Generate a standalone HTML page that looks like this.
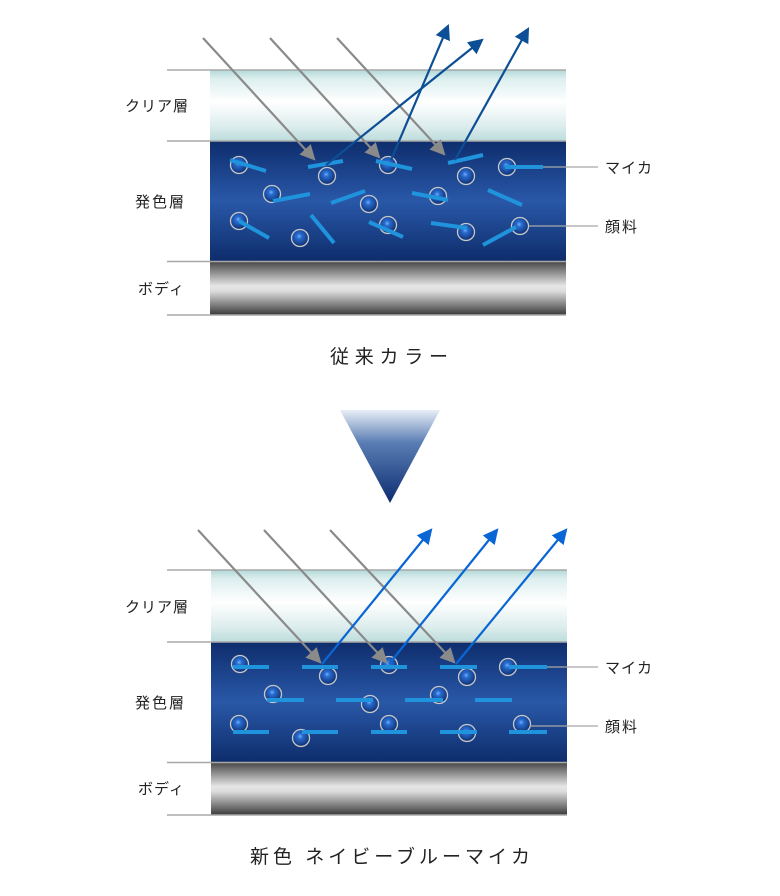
<!DOCTYPE html>
<html><head><meta charset="utf-8"><style>
html,body{margin:0;padding:0;background:#fff;}
svg{display:block;}
text{font-family:"Liberation Sans","Noto Sans CJK JP",sans-serif;fill:#222;}
</style></head><body>
<svg width="780" height="896" viewBox="0 0 780 896" xmlns="http://www.w3.org/2000/svg">
<defs>
<linearGradient id="clr" x1="0" y1="0" x2="0" y2="1">
<stop offset="0" stop-color="#b2d8d8"/><stop offset="0.12" stop-color="#dceeee"/><stop offset="0.45" stop-color="#ffffff"/><stop offset="0.8" stop-color="#dcecec"/><stop offset="1" stop-color="#bcdcdc"/>
</linearGradient>
<linearGradient id="blu" x1="0" y1="0" x2="0" y2="1">
<stop offset="0" stop-color="#0e2d6c"/><stop offset="0.5" stop-color="#2958a8"/><stop offset="1" stop-color="#0e2d6c"/>
</linearGradient>
<linearGradient id="bod" x1="0" y1="0" x2="0" y2="1">
<stop offset="0" stop-color="#4a4a4a"/><stop offset="0.45" stop-color="#e6e6e6"/><stop offset="0.55" stop-color="#dcdcdc"/><stop offset="1" stop-color="#3a3a3a"/>
</linearGradient>
<linearGradient id="tri" x1="0" y1="0" x2="0" y2="1">
<stop offset="0" stop-color="#e8eef6"/><stop offset="0.35" stop-color="#5a7db4"/><stop offset="1" stop-color="#0c2c70"/>
</linearGradient>
<radialGradient id="sph" cx="0.45" cy="0.4" r="0.6">
<stop offset="0" stop-color="#6fb0ff"/><stop offset="0.25" stop-color="#2a6cd0"/><stop offset="1" stop-color="#0d2e6e"/>
</radialGradient>
<marker id="ag" markerWidth="7" markerHeight="7" refX="6" refY="3.5" orient="auto" markerUnits="strokeWidth">
<path d="M0,0 L7,3.5 L0,7 Z" fill="#8a8a8a"/></marker>
<marker id="ad" markerWidth="7" markerHeight="7" refX="6" refY="3.5" orient="auto" markerUnits="strokeWidth">
<path d="M0,0 L7,3.5 L0,7 Z" fill="#0d4f96"/></marker>
<marker id="ab" markerWidth="7" markerHeight="7" refX="6" refY="3.5" orient="auto" markerUnits="strokeWidth">
<path d="M0,0 L7,3.5 L0,7 Z" fill="#0a66d4"/></marker>
</defs>

<!-- TOP PANEL -->
<rect x="210" y="70" width="356" height="71" fill="url(#clr)"/>
<rect x="210" y="141" width="356" height="120" fill="url(#blu)"/>
<rect x="210" y="262" width="356" height="53" fill="url(#bod)"/>
<g stroke="#a8a8a8" stroke-width="1.5">
<line x1="167" y1="70" x2="566" y2="70"/><line x1="167" y1="141" x2="566" y2="141"/>
<line x1="167" y1="261.5" x2="566" y2="261.5"/><line x1="167" y1="315" x2="566" y2="315"/>
</g>
<g fill="url(#sph)" stroke="#c8c8c8" stroke-width="1.3">
<circle cx="239" cy="165" r="8.5"/><circle cx="327" cy="176" r="8.5"/><circle cx="388" cy="165" r="8.5"/>
<circle cx="466" cy="176" r="8.5"/><circle cx="507" cy="167" r="8.5"/><circle cx="272" cy="194" r="8.5"/>
<circle cx="369" cy="204" r="8.5"/><circle cx="438" cy="196" r="8.5"/><circle cx="239" cy="221" r="8.5"/>
<circle cx="300" cy="238" r="8.5"/><circle cx="388" cy="225" r="8.5"/><circle cx="466" cy="232" r="8.5"/>
<circle cx="520" cy="226" r="8.5"/>
</g>
<g stroke="#1f93dc" stroke-width="4">
<line x1="230" y1="160" x2="266" y2="171"/><line x1="308" y1="167" x2="343" y2="161"/>
<line x1="376" y1="161" x2="412" y2="169"/><line x1="448" y1="163" x2="483" y2="155"/>
<line x1="505" y1="167" x2="543" y2="167"/><line x1="273" y1="201" x2="310" y2="194"/>
<line x1="331" y1="203" x2="365" y2="191"/><line x1="412" y1="193" x2="448" y2="200"/>
<line x1="488" y1="190" x2="522" y2="205"/><line x1="239" y1="221" x2="269" y2="238"/>
<line x1="311" y1="215" x2="334" y2="243"/><line x1="369" y1="222" x2="403" y2="237"/>
<line x1="431" y1="223" x2="467" y2="228"/><line x1="483" y1="245" x2="516" y2="227"/>
</g>
<g stroke="#a8a8a8" stroke-width="1.3">
<line x1="543" y1="167" x2="598" y2="167"/><line x1="529" y1="226" x2="598" y2="226"/>
</g>
<g stroke="#8a8a8a" stroke-width="2.2" marker-end="url(#ag)">
<line x1="203" y1="38" x2="314" y2="159"/><line x1="270" y1="38" x2="379" y2="157"/><line x1="337" y1="38" x2="444" y2="154"/>
</g>
<g stroke="#0d4f96" stroke-width="2.2" marker-end="url(#ad)">
<line x1="326" y1="165" x2="482" y2="40"/><line x1="391" y1="160" x2="448" y2="26"/><line x1="455" y1="160" x2="528" y2="29"/>
</g>
<text x="125" y="111" font-size="15" letter-spacing="1">クリア層</text>
<text x="135" y="207" font-size="15" letter-spacing="2">発色層</text>
<text x="138" y="294" font-size="15" letter-spacing="1">ボディ</text>
<text x="605" y="173" font-size="15" letter-spacing="1">マイカ</text>
<text x="605" y="232" font-size="15" letter-spacing="2">顔料</text>
<text x="330" y="363" font-size="19" textLength="118" lengthAdjust="spacing">従来カラー</text>

<polygon points="340,410 440,410 390,503" fill="url(#tri)"/>

<!-- BOTTOM PANEL -->
<rect x="211" y="570" width="356" height="72" fill="url(#clr)"/>
<rect x="211" y="642" width="356" height="120" fill="url(#blu)"/>
<rect x="211" y="763" width="356" height="52" fill="url(#bod)"/>
<g stroke="#a8a8a8" stroke-width="1.5">
<line x1="167" y1="570" x2="567" y2="570"/><line x1="167" y1="642" x2="567" y2="642"/>
<line x1="167" y1="762.5" x2="567" y2="762.5"/><line x1="167" y1="815" x2="567" y2="815"/>
</g>
<g fill="url(#sph)" stroke="#c8c8c8" stroke-width="1.3">
<circle cx="240" cy="664" r="8.5"/><circle cx="328" cy="676" r="8.5"/><circle cx="389" cy="665" r="8.5"/>
<circle cx="467" cy="677" r="8.5"/><circle cx="508" cy="667" r="8.5"/><circle cx="273" cy="694" r="8.5"/>
<circle cx="370" cy="704" r="8.5"/><circle cx="439" cy="695" r="8.5"/><circle cx="239" cy="724" r="8.5"/>
<circle cx="301" cy="738" r="8.5"/><circle cx="389" cy="724" r="8.5"/><circle cx="467" cy="733" r="8.5"/>
<circle cx="522" cy="724" r="8.5"/>
</g>
<g stroke="#1f93dc" stroke-width="4">
<line x1="233" y1="667" x2="269" y2="667"/><line x1="302" y1="667" x2="338" y2="667"/>
<line x1="371" y1="667" x2="407" y2="667"/><line x1="440" y1="667" x2="477" y2="667"/>
<line x1="509" y1="667" x2="547" y2="667"/>
<line x1="267" y1="700" x2="304" y2="700"/><line x1="336" y1="700" x2="373" y2="700"/>
<line x1="405" y1="700" x2="443" y2="700"/><line x1="475" y1="700" x2="512" y2="700"/>
<line x1="233" y1="732" x2="269" y2="732"/><line x1="302" y1="732" x2="338" y2="732"/>
<line x1="371" y1="732" x2="407" y2="732"/><line x1="440" y1="732" x2="477" y2="732"/>
<line x1="509" y1="732" x2="547" y2="732"/>
</g>
<g stroke="#a8a8a8" stroke-width="1.3">
<line x1="547" y1="667" x2="598" y2="667"/><line x1="530" y1="726" x2="598" y2="726"/>
</g>
<g stroke="#8a8a8a" stroke-width="2.2" marker-end="url(#ag)">
<line x1="198" y1="530" x2="320" y2="662"/><line x1="264" y1="530" x2="386" y2="662"/><line x1="330" y1="530" x2="454" y2="662"/>
</g>
<g stroke="#0a66d4" stroke-width="2.2" marker-end="url(#ab)">
<line x1="322" y1="664" x2="431" y2="530"/><line x1="389" y1="664" x2="497" y2="530"/><line x1="456" y1="664" x2="566" y2="530"/>
</g>
<text x="125" y="612" font-size="15" letter-spacing="1">クリア層</text>
<text x="135" y="708" font-size="15" letter-spacing="2">発色層</text>
<text x="138" y="794" font-size="15" letter-spacing="1">ボディ</text>
<text x="605" y="673" font-size="15" letter-spacing="1">マイカ</text>
<text x="605" y="732" font-size="15" letter-spacing="2">顔料</text>
<text x="250" y="863" font-size="19" textLength="280" lengthAdjust="spacing">新色 ネイビーブルーマイカ</text>
</svg>
</body></html>
